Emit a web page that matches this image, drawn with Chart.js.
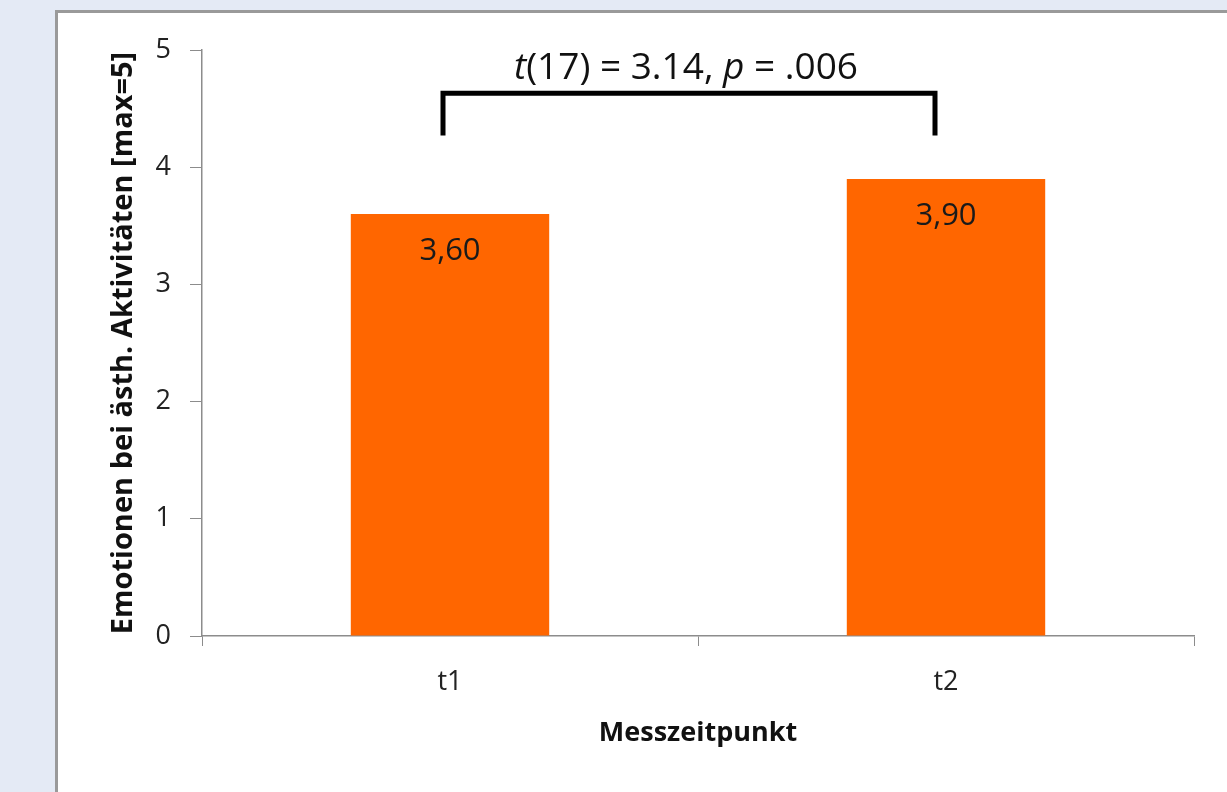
<!DOCTYPE html>
<html>
<head>
<meta charset="utf-8">
<script src="https://cdn.jsdelivr.net/npm/chart.js@4.4.0/dist/chart.umd.min.js"></script>
<style>
  html, body { margin: 0; padding: 0; background: #e4eaf5; width: 1227px; height: 792px; overflow: hidden; }
  #frame { position: absolute; left: 55px; top: 10px; width: 1200px; height: 800px; background: #fff; border: 3px solid #9a9a9a; }
  #wrap { position: absolute; left: 0; top: 0; width: 1227px; height: 792px; }
</style>
</head>
<body>
<div id="frame"></div>
<div id="wrap"><canvas id="myChart"></canvas></div>
<script>
// values
const categories = ['t1', 't2'];
const meanValues = [3.60, 3.90];
const valueLabels = ['3,60', '3,90'];
const yTicks = [0, 1, 2, 3, 4, 5];

const FONT = '"Open Sans", "Noto Sans", sans-serif';

// bracket with the t-test result on top of the bars
const bracketPlugin = {
  id: 'bracket',
  afterDatasetsDraw(chart) {
    const ctx = chart.ctx;
    const x = chart.scales.x, y = chart.scales.y;
    const x1 = x.getPixelForValue(0) - 7;
    const x2 = x.getPixelForValue(1) - 11;
    const yTop = y.getPixelForValue(4.63);
    const yBot = y.getPixelForValue(4.27);
    ctx.save();
    ctx.strokeStyle = '#000';
    ctx.lineWidth = 5;
    ctx.lineJoin = 'miter';
    ctx.beginPath();
    ctx.moveTo(x1, yBot);
    ctx.lineTo(x1, yTop);
    ctx.lineTo(x2, yTop);
    ctx.lineTo(x2, yBot);
    ctx.stroke();

    // mixed italic / normal text
    const parts = [
      ['t', 'italic'], ['(17) = 3.14, ', 'normal'], ['p', 'italic'], [' = .006', 'normal']
    ];
    const size = 37;
    let total = 0;
    parts.forEach(p => { ctx.font = p[1] + ' ' + size + 'px ' + FONT; total += ctx.measureText(p[0]).width; });
    let tx = (x1 + x2) / 2 - total / 2 - 3;
    const ty = y.getPixelForValue(4.84);
    ctx.fillStyle = '#111';
    ctx.textBaseline = 'middle';
    ctx.textAlign = 'left';
    parts.forEach(p => {
      ctx.font = p[1] + ' ' + size + 'px ' + FONT;
      ctx.fillText(p[0], tx, ty);
      tx += ctx.measureText(p[0]).width;
    });

    // value labels inside the bars
    ctx.font = '31px ' + FONT;
    ctx.textAlign = 'center';
    ctx.fillStyle = '#1a1a1a';
    const meta = chart.getDatasetMeta(0);
    meta.data.forEach((bar, i) => {
      ctx.fillText(valueLabels[i], bar.x, bar.y + 37);
    });
    ctx.restore();
  }
};

const data = {
  labels: categories,
  datasets: [{
    data: meanValues,
    backgroundColor: '#ff6600',
    borderWidth: 0,
    barPercentage: 0.4,
    categoryPercentage: 1.0
  }]
};

const config = {
  type: 'bar',
  data: data,
  options: {
    responsive: false,
    animation: false,
    layout: { padding: { left: 100, right: 33, top: 50, bottom: 36 } },
    plugins: {
      legend: { display: false },
      tooltip: { enabled: false }
    },
    scales: {
      x: {
        afterFit(scale) { scale.height = 120; },
        grid: { display: true, drawOnChartArea: false, drawTicks: true, tickLength: 10, color: '#8c8c8c', offset: true },
        border: { display: true, color: '#8c8c8c', width: 1.5 },
        ticks: { color: '#222', font: { family: FONT, size: 27 }, padding: 20 },
        title: { display: true, text: 'Messzeitpunkt', color: '#111', font: { family: FONT, size: 27, weight: 'bold' }, padding: { top: 10, bottom: 6 } }
      },
      y: {
        min: 0,
        max: 5,
        afterFit(scale) { scale.width = 102; },
        afterBuildTicks(scale) { scale.ticks = yTicks.map(v => ({ value: v })); },
        grid: { display: true, drawOnChartArea: false, drawTicks: true, tickLength: 12, color: '#8c8c8c' },
        border: { display: true, color: '#8c8c8c', width: 1.5 },
        ticks: { color: '#222', font: { family: FONT, size: 27 }, padding: 19 },
        title: { display: true, text: 'Emotionen bei ästh. Aktivitäten [max=5]', color: '#111', font: { family: FONT, size: 29, weight: 'bold' }, padding: { top: 6, bottom: 4 } }
      }
    }
  },
  plugins: [bracketPlugin]
};

const canvas = document.getElementById('myChart');
canvas.width = 1227;
canvas.height = 792;
const myChart = new Chart(canvas, config);
</script>
</body>
</html>
